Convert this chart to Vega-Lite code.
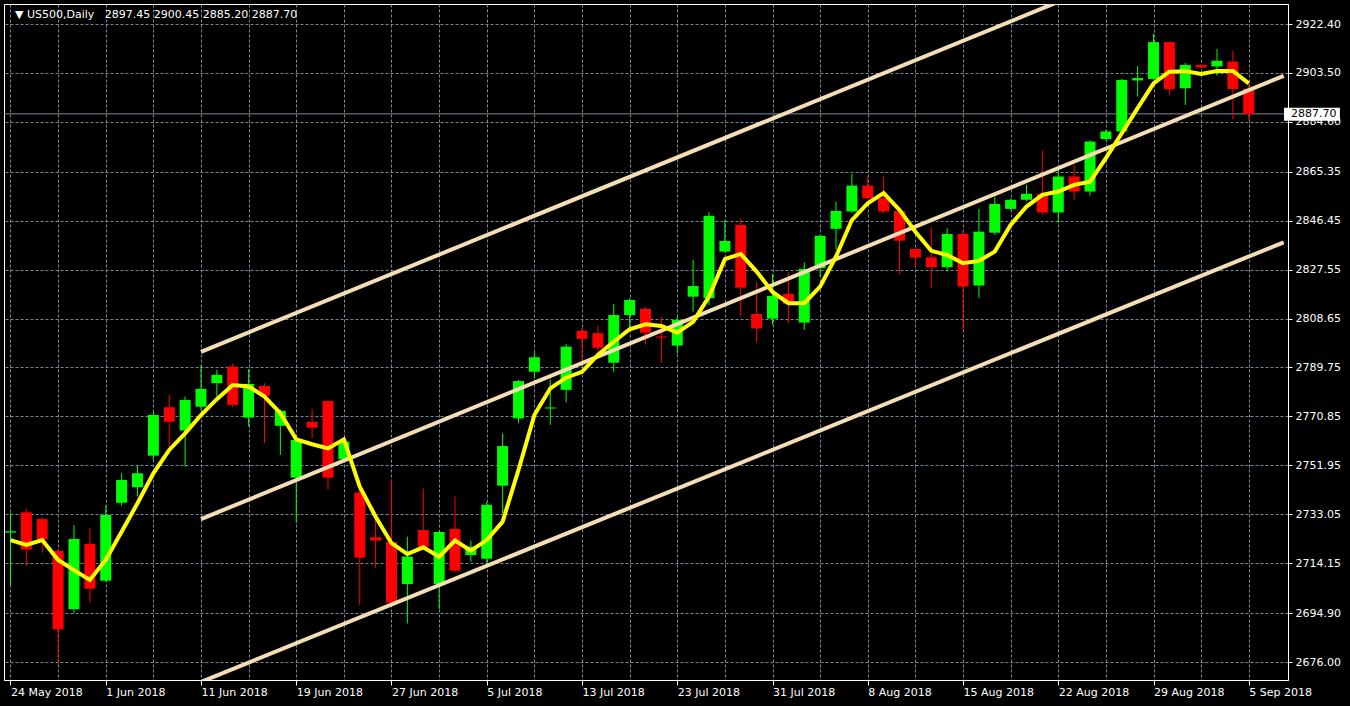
{
  "$schema": "https://vega.github.io/schema/vega-lite/v6.json",
  "width": 1284,
  "height": 676,
  "autosize": "none",
  "padding": {"left": 4, "top": 4, "right": 62, "bottom": 26},
  "background": "#000000",
  "config": {
    "view": {"stroke": "#ffffff", "strokeWidth": 1},
    "text": {"font": "DejaVu Sans", "fontSize": 11}
  },
  "data": {
    "values": [
      {"i": 0, "open": 2726.0, "high": 2733.4, "low": 2705.7, "close": 2726.5, "sma": 2723.1},
      {"i": 1, "open": 2733.8, "high": 2735.1, "low": 2713.1, "close": 2719.5, "sma": 2721.2},
      {"i": 2, "open": 2731.2, "high": 2731.7, "low": 2718.2, "close": 2723.4, "sma": 2723.1},
      {"i": 3, "open": 2718.9, "high": 2719.2, "low": 2674.8, "close": 2688.6, "sma": 2715.4},
      {"i": 4, "open": 2696.4, "high": 2728.9, "low": 2694.8, "close": 2723.5, "sma": 2711.5},
      {"i": 5, "open": 2721.6, "high": 2727.6, "low": 2698.9, "close": 2704.3, "sma": 2707.7},
      {"i": 6, "open": 2707.4, "high": 2736.4, "low": 2707.0, "close": 2732.8, "sma": 2715.4},
      {"i": 7, "open": 2737.5, "high": 2748.9, "low": 2736.4, "close": 2746.3, "sma": 2726.3},
      {"i": 8, "open": 2743.5, "high": 2751.8, "low": 2739.9, "close": 2748.9, "sma": 2737.3},
      {"i": 9, "open": 2755.7, "high": 2772.7, "low": 2754.0, "close": 2771.4, "sma": 2748.9},
      {"i": 10, "open": 2774.4, "high": 2779.1, "low": 2759.2, "close": 2768.8, "sma": 2757.9},
      {"i": 11, "open": 2765.4, "high": 2778.5, "low": 2751.4, "close": 2777.2, "sma": 2764.3},
      {"i": 12, "open": 2774.6, "high": 2790.7, "low": 2773.3, "close": 2781.5, "sma": 2771.4},
      {"i": 13, "open": 2783.7, "high": 2788.8, "low": 2778.5, "close": 2786.9, "sma": 2777.5},
      {"i": 14, "open": 2790.1, "high": 2791.4, "low": 2774.4, "close": 2775.3, "sma": 2783.0},
      {"i": 15, "open": 2770.4, "high": 2789.1, "low": 2766.9, "close": 2783.4, "sma": 2782.4},
      {"i": 16, "open": 2782.6, "high": 2783.7, "low": 2760.5, "close": 2778.8, "sma": 2778.5},
      {"i": 17, "open": 2767.2, "high": 2773.5, "low": 2756.0, "close": 2773.0, "sma": 2772.1},
      {"i": 18, "open": 2747.2, "high": 2762.0, "low": 2729.8, "close": 2761.8, "sma": 2762.0},
      {"i": 19, "open": 2768.8, "high": 2773.7, "low": 2762.4, "close": 2766.5, "sma": 2760.1},
      {"i": 20, "open": 2776.8, "high": 2777.0, "low": 2742.7, "close": 2747.2, "sma": 2758.5},
      {"i": 21, "open": 2754.3, "high": 2762.0, "low": 2753.5, "close": 2761.1, "sma": 2762.0},
      {"i": 22, "open": 2741.4, "high": 2743.7, "low": 2698.0, "close": 2716.3, "sma": 2743.7},
      {"i": 23, "open": 2724.2, "high": 2732.1, "low": 2712.4, "close": 2722.9, "sma": 2732.1},
      {"i": 24, "open": 2722.4, "high": 2746.3, "low": 2698.5, "close": 2698.9, "sma": 2721.9},
      {"i": 25, "open": 2706.1, "high": 2724.4, "low": 2690.9, "close": 2716.7, "sma": 2717.7},
      {"i": 26, "open": 2727.0, "high": 2743.1, "low": 2720.0, "close": 2720.5, "sma": 2720.3},
      {"i": 27, "open": 2706.1, "high": 2726.5, "low": 2696.4, "close": 2726.2, "sma": 2716.7},
      {"i": 28, "open": 2727.4, "high": 2739.9, "low": 2710.5, "close": 2711.3, "sma": 2722.9},
      {"i": 29, "open": 2717.3, "high": 2722.9, "low": 2714.7, "close": 2720.5, "sma": 2719.0},
      {"i": 30, "open": 2715.9, "high": 2737.9, "low": 2712.8, "close": 2736.7, "sma": 2723.1},
      {"i": 31, "open": 2744.1, "high": 2764.3, "low": 2733.4, "close": 2759.4, "sma": 2730.2},
      {"i": 32, "open": 2770.1, "high": 2784.9, "low": 2768.2, "close": 2784.5, "sma": 2750.2},
      {"i": 33, "open": 2788.1, "high": 2795.6, "low": 2785.6, "close": 2793.7, "sma": 2771.4},
      {"i": 34, "open": 2773.9, "high": 2785.2, "low": 2767.6, "close": 2774.3, "sma": 2781.7},
      {"i": 35, "open": 2781.1, "high": 2798.8, "low": 2776.3, "close": 2797.8, "sma": 2785.8},
      {"i": 36, "open": 2803.9, "high": 2805.1, "low": 2791.4, "close": 2800.8, "sma": 2788.1},
      {"i": 37, "open": 2803.0, "high": 2805.8, "low": 2795.3, "close": 2797.4, "sma": 2794.6},
      {"i": 38, "open": 2791.6, "high": 2814.3, "low": 2788.1, "close": 2810.0, "sma": 2799.7},
      {"i": 39, "open": 2810.0, "high": 2816.5, "low": 2804.9, "close": 2815.8, "sma": 2804.5},
      {"i": 40, "open": 2812.4, "high": 2813.0, "low": 2798.5, "close": 2803.2, "sma": 2806.4},
      {"i": 41, "open": 2801.7, "high": 2809.0, "low": 2791.6, "close": 2801.3, "sma": 2805.8},
      {"i": 42, "open": 2798.2, "high": 2809.4, "low": 2795.0, "close": 2808.1, "sma": 2803.2},
      {"i": 43, "open": 2817.1, "high": 2831.3, "low": 2811.3, "close": 2821.2, "sma": 2807.4},
      {"i": 44, "open": 2816.5, "high": 2849.7, "low": 2813.9, "close": 2848.3, "sma": 2817.1},
      {"i": 45, "open": 2834.5, "high": 2846.7, "low": 2834.0, "close": 2838.6, "sma": 2831.6},
      {"i": 46, "open": 2844.8, "high": 2847.4, "low": 2809.4, "close": 2820.6, "sma": 2833.6},
      {"i": 47, "open": 2810.4, "high": 2822.7, "low": 2799.3, "close": 2804.8, "sma": 2826.8},
      {"i": 48, "open": 2808.6, "high": 2825.8, "low": 2806.2, "close": 2817.4, "sma": 2818.9},
      {"i": 49, "open": 2818.2, "high": 2826.5, "low": 2806.8, "close": 2814.3, "sma": 2814.6},
      {"i": 50, "open": 2807.1, "high": 2830.4, "low": 2804.3, "close": 2827.8, "sma": 2814.6},
      {"i": 51, "open": 2828.1, "high": 2841.0, "low": 2824.8, "close": 2840.6, "sma": 2821.0},
      {"i": 52, "open": 2843.3, "high": 2853.8, "low": 2835.4, "close": 2850.2, "sma": 2832.6},
      {"i": 53, "open": 2850.0, "high": 2864.5, "low": 2849.5, "close": 2860.0, "sma": 2846.7},
      {"i": 54, "open": 2860.0, "high": 2863.5, "low": 2854.8, "close": 2855.1, "sma": 2853.2},
      {"i": 55, "open": 2855.1, "high": 2863.5, "low": 2849.3, "close": 2850.0, "sma": 2857.1},
      {"i": 56, "open": 2850.2, "high": 2850.5, "low": 2825.9, "close": 2838.7, "sma": 2850.6},
      {"i": 57, "open": 2835.5, "high": 2835.7, "low": 2828.7, "close": 2832.2, "sma": 2842.2},
      {"i": 58, "open": 2832.3, "high": 2843.9, "low": 2820.4, "close": 2828.5, "sma": 2834.8},
      {"i": 59, "open": 2828.5, "high": 2843.5, "low": 2826.8, "close": 2841.3, "sma": 2833.2},
      {"i": 60, "open": 2841.3, "high": 2842.9, "low": 2804.3, "close": 2821.0, "sma": 2830.0},
      {"i": 61, "open": 2821.4, "high": 2850.9, "low": 2816.7, "close": 2842.2, "sma": 2830.9},
      {"i": 62, "open": 2841.8, "high": 2855.7, "low": 2841.0, "close": 2852.9, "sma": 2834.5},
      {"i": 63, "open": 2851.0, "high": 2855.0, "low": 2850.5, "close": 2854.5, "sma": 2844.8},
      {"i": 64, "open": 2854.5, "high": 2860.3, "low": 2854.0, "close": 2856.8, "sma": 2851.9},
      {"i": 65, "open": 2856.8, "high": 2873.5, "low": 2848.7, "close": 2849.6, "sma": 2856.4},
      {"i": 66, "open": 2849.6, "high": 2867.3, "low": 2845.7, "close": 2863.5, "sma": 2857.7},
      {"i": 67, "open": 2863.5, "high": 2868.0, "low": 2854.5, "close": 2857.7, "sma": 2860.3},
      {"i": 68, "open": 2857.7, "high": 2877.5, "low": 2856.1, "close": 2877.0, "sma": 2861.5},
      {"i": 69, "open": 2878.0, "high": 2881.5, "low": 2877.5, "close": 2880.9, "sma": 2870.6},
      {"i": 70, "open": 2880.9, "high": 2901.2, "low": 2880.0, "close": 2900.8, "sma": 2880.2},
      {"i": 71, "open": 2900.6, "high": 2906.2, "low": 2894.4, "close": 2901.5, "sma": 2889.9},
      {"i": 72, "open": 2901.2, "high": 2918.6, "low": 2900.8, "close": 2915.4, "sma": 2899.5},
      {"i": 73, "open": 2915.4, "high": 2915.6, "low": 2895.0, "close": 2897.2, "sma": 2904.0},
      {"i": 74, "open": 2897.6, "high": 2907.3, "low": 2891.2, "close": 2906.6, "sma": 2904.2},
      {"i": 75, "open": 2906.6, "high": 2906.8, "low": 2905.4, "close": 2905.6, "sma": 2903.1},
      {"i": 76, "open": 2906.0, "high": 2912.8, "low": 2902.4, "close": 2908.2, "sma": 2904.3},
      {"i": 77, "open": 2907.9, "high": 2912.1, "low": 2885.6, "close": 2897.3, "sma": 2904.3},
      {"i": 78, "open": 2897.45, "high": 2900.45, "low": 2885.2, "close": 2887.7, "sma": 2899.5}
    ]
  },
  "layer": [
    {
      "mark": {"type": "rule", "color": "#778899", "strokeWidth": 1},
      "data": {"values": [{"last": 2887.7}]},
      "encoding": {
        "y": {"field": "last", "type": "quantitative", "title": null,
              "scale": {"domain": [2669.05, 2930.13], "nice": false, "zero": false}}
      }
    },
    {
      "mark": {"type": "rule", "strokeWidth": 1, "clip": true},
      "encoding": {
        "x": {
          "field": "i", "type": "quantitative", "title": null,
          "scale": {"domain": [-0.09375, 80.15625], "nice": false, "zero": false},
          "axis": {
            "orient": "bottom",
            "values": [0, 3, 6, 9, 12, 15, 18, 21, 24, 27, 30, 33, 36, 39, 42, 45, 48, 51, 54, 57, 60, 63, 66, 69, 72, 75, 78],
            "grid": true, "gridColor": "#778899", "gridDash": [3, 2], "gridWidth": 1,
            "domain": true, "domainColor": "#ffffff",
            "ticks": true, "tickColor": "#ffffff", "tickSize": 5,
            "tickOpacity": {"condition": {"test": "datum.value % 6 === 0", "value": 1}, "value": 0},
            "labelExpr": "datum.value % 6 === 0 ? ['24 May 2018','1 Jun 2018','11 Jun 2018','19 Jun 2018','27 Jun 2018','5 Jul 2018','13 Jul 2018','23 Jul 2018','31 Jul 2018','8 Aug 2018','15 Aug 2018','22 Aug 2018','29 Aug 2018','5 Sep 2018'][datum.value / 6] : ''",
            "labelAlign": "left", "labelFlush": false, "labelOverlap": false,
            "labelColor": "#ffffff", "labelFont": "DejaVu Sans", "labelFontSize": 11, "labelPadding": 1
          }
        },
        "y": {
          "field": "low", "type": "quantitative", "title": null,
          "scale": {"domain": [2669.05, 2930.13], "nice": false, "zero": false},
          "axis": {
            "orient": "right",
            "values": [2676.00, 2694.90, 2714.15, 2733.05, 2751.95, 2770.85, 2789.75, 2808.65, 2827.55, 2846.45, 2865.35, 2884.60, 2903.50, 2922.40],
            "format": ".2f",
            "grid": true, "gridColor": "#778899", "gridDash": [3, 2], "gridWidth": 1,
            "domain": true, "domainColor": "#ffffff",
            "ticks": true, "tickColor": "#ffffff", "tickSize": 4,
            "labelColor": "#ffffff", "labelFont": "DejaVu Sans", "labelFontSize": 11, "labelPadding": 3,
            "labelFlush": false, "labelOverlap": false
          }
        },
        "y2": {"field": "high"},
        "color": {"condition": {"test": "datum.close >= datum.open", "value": "#00ff00"}, "value": "#ff0000"}
      }
    },
    {
      "mark": {"type": "bar", "width": 11, "clip": true},
      "encoding": {
        "x": {"field": "i", "type": "quantitative", "title": null,
              "scale": {"domain": [-0.09375, 80.15625], "nice": false, "zero": false}},
        "y": {"field": "open", "type": "quantitative", "title": null,
              "scale": {"domain": [2669.05, 2930.13], "nice": false, "zero": false}},
        "y2": {"field": "close"},
        "color": {"condition": {"test": "datum.close >= datum.open", "value": "#00ff00"}, "value": "#ff0000"}
      }
    },
    {
      "data": {
        "values": [
          {"line": "upper", "i": 12, "price": 2795.8},
          {"line": "upper", "i": 80.2, "price": 2966.5},
          {"line": "middle", "i": 12, "price": 2731.2},
          {"line": "middle", "i": 80.2, "price": 2902.4},
          {"line": "lower", "i": 12, "price": 2668.3},
          {"line": "lower", "i": 80.2, "price": 2838.1}
        ]
      },
      "mark": {"type": "line", "color": "#f5deb3", "strokeWidth": 4, "clip": true},
      "encoding": {
        "x": {"field": "i", "type": "quantitative", "title": null,
              "scale": {"domain": [-0.09375, 80.15625], "nice": false, "zero": false}},
        "y": {"field": "price", "type": "quantitative", "title": null,
              "scale": {"domain": [2669.05, 2930.13], "nice": false, "zero": false}},
        "detail": {"field": "line"}
      }
    },
    {
      "mark": {"type": "line", "color": "#ffff00", "strokeWidth": 4, "clip": true},
      "encoding": {
        "x": {"field": "i", "type": "quantitative", "title": null,
              "scale": {"domain": [-0.09375, 80.15625], "nice": false, "zero": false}},
        "y": {"field": "sma", "type": "quantitative", "title": null,
              "scale": {"domain": [2669.05, 2930.13], "nice": false, "zero": false}}
      }
    },
    {
      "data": {"values": [{"tag": "2887.70"}]},
      "mark": {"type": "rect", "color": "#ffffff", "clip": false},
      "encoding": {
        "x": {"datum": 80.22, "type": "quantitative",
              "scale": {"domain": [-0.09375, 80.15625], "nice": false, "zero": false}},
        "x2": {"datum": 83.74},
        "y": {"datum": 2885.06, "type": "quantitative",
              "scale": {"domain": [2669.05, 2930.13], "nice": false, "zero": false}},
        "y2": {"datum": 2890.08}
      }
    },
    {
      "data": {"values": [{"tag": "2887.70"}]},
      "mark": {"type": "text", "color": "#000000", "align": "left", "baseline": "middle", "font": "DejaVu Sans", "fontSize": 11, "clip": false},
      "encoding": {
        "x": {"datum": 80.66, "type": "quantitative",
              "scale": {"domain": [-0.09375, 80.15625], "nice": false, "zero": false}},
        "y": {"datum": 2887.7, "type": "quantitative",
              "scale": {"domain": [2669.05, 2930.13], "nice": false, "zero": false}},
        "text": {"field": "tag"}
      }
    },
    {
      "data": {"values": [{"caption": "▼ US500,Daily\u00a0\u00a0 2897.45 2900.45 2885.20 2887.70"}]},
      "mark": {"type": "text", "color": "#ffffff", "align": "left", "baseline": "alphabetic", "font": "DejaVu Sans", "fontSize": 11},
      "encoding": {
        "x": {"datum": 0.28, "type": "quantitative",
              "scale": {"domain": [-0.09375, 80.15625], "nice": false, "zero": false}},
        "y": {"datum": 2924.6, "type": "quantitative",
              "scale": {"domain": [2669.05, 2930.13], "nice": false, "zero": false}},
        "text": {"field": "caption"}
      }
    }
  ]
}
